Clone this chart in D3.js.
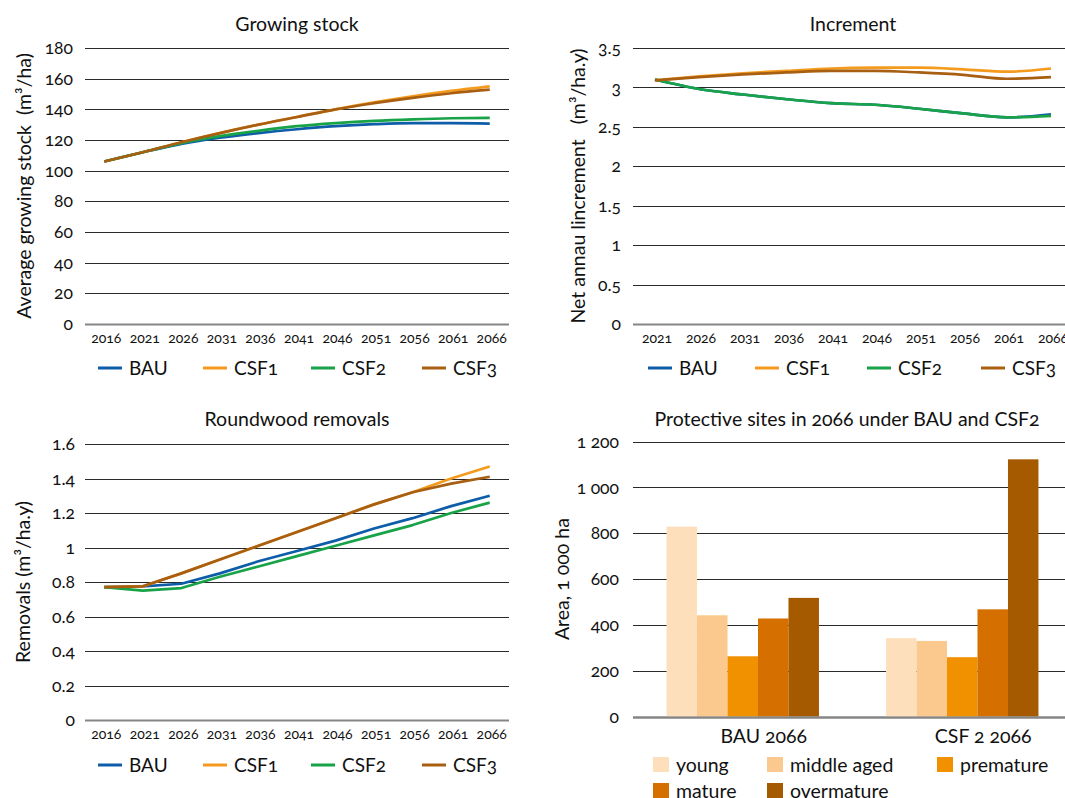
<!DOCTYPE html>
<html><head><meta charset="utf-8">
<script src="https://cdn.jsdelivr.net/npm/d3@7"></script>
<style>
html,body{margin:0;padding:0;background:#fff;}
svg{display:block;font-family:Lato,"Open Sans",sans-serif;font-variant-numeric:oldstyle-nums;font-feature-settings:"onum" 1;}
text{fill:#111;}
</style></head>
<body><svg id="c" width="1065" height="798"></svg>
<script>
// ---------- DATA ----------
const seriesNames = ["BAU","CSF1","CSF2","CSF3"];
const seriesColors = ["#0D5DA8","#F49B1E","#19A348","#A85F12"];

// Growing stock (m3/ha)
const gsYears = [2016,2021,2026,2031,2036,2041,2046,2051,2056,2061,2066];
const gsBAU  = [106,112,117.5,121.5,124.5,127,129,130.3,131,131,130.7];
const gsCSF1 = [106,112,118.5,124.5,130,135,140,144.5,148.5,152,155];
const gsCSF2 = [106,112,118,122.5,126,129,131,132.5,133.5,134.2,134.4];
const gsCSF3 = [106,112,118.5,124.5,130,135,140,144,147.5,150.5,152.8];
const gsTicks = [0,20,40,60,80,100,120,140,160,180];

// Net annual increment (m3/ha.y)
const incYears = [2021,2026,2031,2036,2041,2046,2051,2056,2061,2066];
const incBAU  = [3.10,2.98,2.91,2.85,2.80,2.78,2.73,2.67,2.62,2.66];
const incCSF1 = [3.09,3.14,3.18,3.21,3.24,3.25,3.25,3.23,3.20,3.24];
const incCSF2 = [3.10,2.98,2.91,2.85,2.80,2.78,2.73,2.67,2.62,2.64];
const incCSF3 = [3.09,3.13,3.165,3.19,3.21,3.21,3.19,3.16,3.11,3.13];
const incTicks = [0,0.5,1,1.5,2,2.5,3,3.5];

// Roundwood removals (m3/ha.y)
const remYears = [2016,2021,2026,2031,2036,2041,2046,2051,2056,2061,2066];
const remBAU  = [0.77,0.775,0.79,0.85,0.92,0.98,1.04,1.11,1.17,1.24,1.30];
const remCSF1 = [0.77,0.775,0.85,0.93,1.01,1.09,1.17,1.25,1.32,1.40,1.47];
const remCSF2 = [0.77,0.75,0.765,0.83,0.89,0.95,1.01,1.07,1.13,1.20,1.26];
const remCSF3 = [0.77,0.775,0.85,0.93,1.01,1.09,1.17,1.25,1.32,1.37,1.41];
const remTicks = [0,0.2,0.4,0.6,0.8,1,1.2,1.4,1.6];

// Protective sites in 2066 (1 000 ha)
const siteGroups = ["BAU 2066","CSF 2 2066"];
const ageClasses = ["young","middle aged","premature","mature","overmature"];
const ageColors = ["#FDDFBC","#FBC98E","#F29100","#D46F00","#A65A00"];
const siteBAU  = [829,442,263,428,518];
const siteCSF2 = [342,330,259,468,1123];
const siteTicks = [0,200,400,600,800,1000,1200];

// ---------- DRAW ----------
const svg = d3.select("#c");
const GRID = "#2a2a2a", ZERO = "#858585";
const FS_TITLE = 19.5, FS_YT = 17.5, FS_XT = 14, FS_AX = 19.5, FS_LEG = 19;

function lineChart(cfg){
  const g = svg.append("g");
  const x = d3.scaleBand().domain(cfg.years).range([cfg.left, cfg.right]);
  const y = d3.scaleLinear().domain([0, cfg.ticks[cfg.ticks.length-1]]).range([cfg.bottom, cfg.top]);
  g.selectAll("line.grid").data(cfg.ticks).join("line")
    .attr("x1", cfg.left).attr("x2", cfg.gridEnd)
    .attr("y1", d=>Math.round(y(d))+0.5).attr("y2", d=>Math.round(y(d))+0.5)
    .attr("stroke", d=> d===0 ? ZERO : GRID)
    .attr("stroke-width", d=> d===0 ? 2 : 1);
  g.selectAll("text.yt").data(cfg.ticks).join("text")
    .attr("x", cfg.tickRight).attr("y", d=>y(d)).attr("dy","0.35em")
    .attr("text-anchor","end").attr("font-size",FS_YT).text(cfg.fmt);
  g.selectAll("text.xt").data(cfg.years).join("text")
    .attr("x", d=>x(d)+x.bandwidth()/2+2).attr("y", cfg.bottom+14).attr("dy","0.35em")
    .attr("text-anchor","middle").attr("font-size",FS_XT).text(d=>d);
  const line = d3.line().x((d,i)=>x(cfg.years[i])+x.bandwidth()/2).y(d=>y(d)).curve(cfg.curve);
  cfg.series.forEach((s,i)=>{
    g.append("path").attr("d", line(s)).attr("fill","none")
      .attr("stroke", seriesColors[i]).attr("stroke-width",2.7).attr("stroke-linejoin","round");
  });
  g.append("text").attr("x", cfg.titleX).attr("y", cfg.titleY).attr("text-anchor","middle")
    .attr("font-size",FS_TITLE).text(cfg.title);
  g.append("text").attr("transform",`translate(${cfg.yTitleX},${(cfg.top+cfg.bottom)/2}) rotate(-90)`)
    .attr("text-anchor","middle").attr("dy","0.35em").attr("font-size",FS_AX)
    .style("white-space","pre").text(cfg.yTitle);
  seriesNames.forEach((n,i)=>{
    const lx = cfg.legendX[i];
    g.append("line").attr("x1",lx).attr("x2",lx+24).attr("y1",cfg.legendY).attr("y2",cfg.legendY)
      .attr("stroke",seriesColors[i]).attr("stroke-width",3);
    g.append("text").attr("x",lx+31).attr("y",cfg.legendY).attr("dy","0.35em")
      .attr("font-size",FS_LEG).text(n);
  });
}

const fmtDec = d => String(+d.toFixed(2));

lineChart({years:gsYears, series:[gsBAU,gsCSF1,gsCSF2,gsCSF3], ticks:gsTicks, fmt:d=>d,
  left:85, right:509, gridEnd:509, top:48, bottom:324, tickRight:73,
  title:"Growing stock", titleX:297, titleY:31,
  yTitle:"Average growing stock  (m³/ha)", yTitleX:24,
  legendX:[98,203,311,422], legendY:368, curve:d3.curveMonotoneX});

lineChart({years:incYears, series:[incBAU,incCSF1,incCSF2,incCSF3], ticks:incTicks, fmt:fmtDec,
  left:633, right:1073, gridEnd:1065, top:48, bottom:324, tickRight:621,
  title:"Increment", titleX:853, titleY:31,
  yTitle:"Net annau lincrement   (m³/ha.y)", yTitleX:578,
  legendX:[648,755,867,981], legendY:368, curve:d3.curveMonotoneX});

lineChart({years:remYears, series:[remBAU,remCSF1,remCSF2,remCSF3], ticks:remTicks, fmt:fmtDec,
  left:85, right:509, gridEnd:509, top:444, bottom:720, tickRight:75,
  title:"Roundwood removals", titleX:297, titleY:426,
  yTitle:"Removals (m³/ha.y)", yTitleX:23,
  legendX:[98,203,311,422], legendY:765, curve:d3.curveLinear});

// ---- bar chart ----
(function(){
  const g = svg.append("g");
  const left=633, right=1072, top=441.7, bottom=716.5;
  const x0 = d3.scaleBand().domain(siteGroups).range([left,right]);
  const x1 = d3.scaleBand().domain(ageClasses).range([0,x0.bandwidth()]).paddingOuter(1.1);
  const y = d3.scaleLinear().domain([0,1200]).range([bottom,top]);
  const color = d3.scaleOrdinal().domain(ageClasses).range(ageColors);
  const loc = d3.formatLocale({decimal:".",thousands:"\u2005",grouping:[3],currency:["",""]});
  const fmt = loc.format(",");
  g.selectAll("line.grid").data(siteTicks).join("line")
    .attr("x1",left).attr("x2",1065)
    .attr("y1",d=>Math.round(y(d))+0.5).attr("y2",d=>Math.round(y(d))+0.5)
    .attr("stroke",d=>d===0?ZERO:GRID).attr("stroke-width",d=>d===0?2:1);
  g.selectAll("text.yt").data(siteTicks).join("text")
    .attr("x",619).attr("y",d=>y(d)).attr("dy","0.35em").attr("text-anchor","end")
    .attr("font-size",FS_YT).text(fmt);
  const rows = siteGroups.map((gr,gi)=>({group:gr, vals:(gi===0?siteBAU:siteCSF2)}));
  rows.forEach(r=>{
    g.selectAll(null).data(r.vals.map((v,i)=>({age:ageClasses[i],v}))).join("rect")
      .attr("x",d=>x0(r.group)+x1(d.age)).attr("width",x1.bandwidth())
      .attr("y",d=>y(d.v)).attr("height",d=>bottom-y(d.v))
      .attr("fill",d=>color(d.age));
  });
  g.append("line").attr("x1",left).attr("x2",1065)
    .attr("y1",Math.round(y(0))+0.5).attr("y2",Math.round(y(0))+0.5)
    .attr("stroke",ZERO).attr("stroke-width",2);
  g.selectAll("text.xt").data(siteGroups).join("text")
    .attr("x",d=>x0(d)+x0.bandwidth()/2+21).attr("y",bottom+20).attr("dy","0.35em")
    .attr("text-anchor","middle").attr("font-size",FS_LEG+0.5).text(d=>d);
  g.append("text").attr("x",847).attr("y",426).attr("text-anchor","middle")
    .attr("font-size",FS_TITLE).text("Protective sites in 2066 under BAU and CSF2");
  g.append("text").attr("transform",`translate(562,${(top+bottom)/2}) rotate(-90)`)
    .attr("text-anchor","middle").attr("dy","0.35em").attr("font-size",FS_AX).text("Area, 1 000 ha");
  const legPos = [[653,765],[767,765],[937,765],[653,791],[767,791]];
  ageClasses.forEach((a,i)=>{
    const [lx,ly]=legPos[i];
    g.append("rect").attr("x",lx).attr("y",ly-8).attr("width",16).attr("height",15).attr("fill",color(a));
    g.append("text").attr("x",lx+23).attr("y",ly).attr("dy","0.35em").attr("font-size",FS_LEG+0.5).text(a);
  });
})();
</script></body></html>
